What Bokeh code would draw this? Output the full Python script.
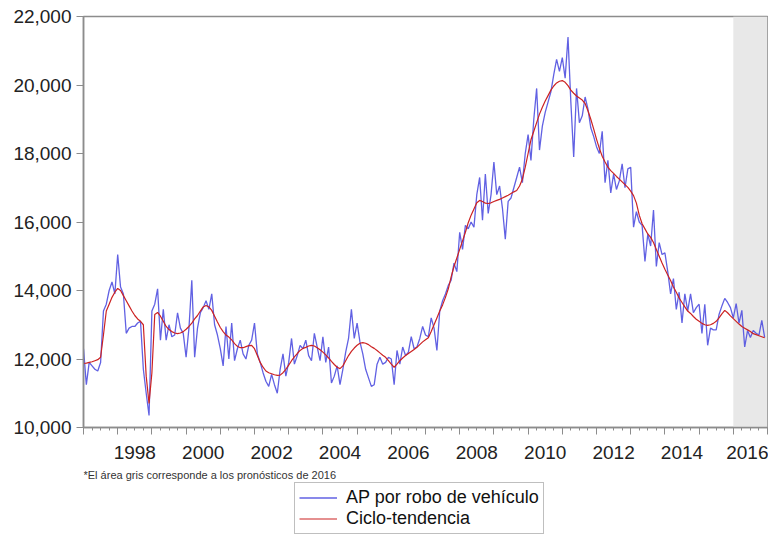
from bokeh.plotting import figure
from bokeh.layouts import column
from bokeh.models import (Range1d, FixedTicker, LinearAxis, NumeralTickFormatter,
                          BoxAnnotation, Legend, LegendItem, Label, ColumnDataSource)
from bokeh.embed import file_html
from bokeh.resources import INLINE

# ---------------- data (monthly, Jan 1997 - Dec 2016) ----------------
start_year = 1997
ap_robo = [
    12300, 11250, 11900, 11800, 11700, 11650, 11900, 13400, 13600, 14000, 14250, 13900,  # 1997
    15050, 14100, 13900, 12750, 12900, 12950, 12950, 13050, 13100, 11700, 11000, 10350,  # 1998
    13400, 13600, 14050, 12550, 13450, 12550, 13000, 12650, 12700, 13350, 12900, 12750,  # 1999
    12050, 12900, 14300, 12050, 12900, 13350, 13500, 13700, 13450, 13900, 13000, 12700,  # 2000
    12300, 11800, 12950, 12000, 13050, 11950, 12300, 12550, 12150, 12000, 12400, 12550,  # 2001
    13050, 12150, 11900, 11600, 11350, 11200, 11550, 11250, 11000, 11700, 12150, 11500,  # 2002
    11900, 12600, 11850, 12100, 12400, 12300, 12550, 12100, 11950, 12750, 12350, 11950,  # 2003
    12650, 11900, 12350, 11300, 11500, 11800, 11250, 11700, 12200, 12600, 13450, 12600,  # 2004
    13050, 12500, 12150, 11700, 11450, 11200, 11250, 11850, 12050, 11850, 11900, 12050,  # 2005
    12000, 11250, 12250, 11850, 12350, 12100, 12200, 12650, 12300, 12350, 12600, 12950,  # 2006
    12700, 12650, 13200, 12900, 12250, 13400, 13700, 13900, 14150, 14300, 14800, 14550,  # 2007
    15700, 15200, 15900, 15800, 16000, 15850, 16800, 17300, 16050, 17400, 16250, 16800,  # 2008
    17750, 16800, 17050, 16400, 15500, 16600, 16700, 17000, 17300, 17600, 17150, 18000,  # 2009
    18550, 17800, 19000, 19900, 18100, 18800, 19200, 19500, 19800, 20300, 20750, 20400,  # 2010
    20800, 20200, 21400, 19500, 17900, 19900, 18900, 19100, 19650, 19300, 18750, 18500,  # 2011
    18200, 18000, 18650, 17150, 17800, 16850, 17400, 16950, 17200, 17700, 17000, 17550,  # 2012
    17600, 15850, 16300, 16000, 15900, 14850, 15650, 15300, 16350, 14700, 15400, 15050,  # 2013
    15100, 14550, 13900, 14350, 13450, 13950, 13050, 13900, 13400, 13900, 13350, 13500,  # 2014
    13600, 12750, 13600, 12400, 12900, 12850, 12850, 13300, 13550, 13770, 13650, 13500,  # 2015
    13200, 13620, 13050, 13420, 12350, 12830, 12630, 12830, 12750, 12700, 13130, 12630,  # 2016
]
ciclo_tendencia = [
    11870, 11880, 11900, 11920, 11950, 11980, 12050, 12700, 13400, 13600, 13800, 13950,  # 1997
    14060, 14000, 13850, 13700, 13550, 13400, 13270, 13170, 13100, 13000, 11500, 10700,  # 1998
    11600, 13300, 13360, 13250, 13100, 12950, 12860, 12800, 12760, 12740, 12760, 12800,  # 1999
    12870, 12950, 13050, 13170, 13270, 13400, 13520, 13560, 13520, 13420, 13250, 13080,  # 2000
    12920, 12800, 12700, 12640, 12560, 12450, 12370, 12330, 12330, 12360, 12390, 12400,  # 2001
    12300, 12100, 11900, 11760, 11650, 11600, 11570, 11540, 11520, 11530, 11600, 11700,  # 2002
    11820, 11950, 12060, 12160, 12250, 12310, 12340, 12380, 12400, 12380, 12330, 12270,  # 2003
    12200, 12120, 12030, 11930, 11840, 11760, 11720, 11800, 11950, 12100, 12220, 12320,  # 2004
    12400, 12460, 12480, 12460, 12420, 12360, 12310, 12250, 12180, 12110, 12050, 11950,  # 2005
    11850, 11760, 11850, 11950, 12030, 12100, 12160, 12220, 12280, 12340, 12420, 12500,  # 2006
    12560, 12620, 12800, 13000, 13200, 13400, 13580, 13800, 14050, 14400, 14700, 14950,  # 2007
    15200, 15450, 15700, 15980, 16200, 16380, 16560, 16630, 16600, 16550, 16540, 16560,  # 2008
    16600, 16630, 16660, 16700, 16740, 16780, 16830, 16880, 16920, 17050, 17250, 17600,  # 2009
    18000, 18400, 18650, 18900, 19150, 19350, 19530, 19690, 19850, 19970, 20060, 20110,  # 2010
    20130, 20080, 19980, 19850, 19760, 19680, 19620, 19560, 19460, 19250, 19000, 18720,  # 2011
    18420, 18150, 17920, 17750, 17600, 17500, 17420, 17330, 17250, 17170, 17090, 17010,  # 2012
    16900, 16770, 16550, 16200, 15950, 15800, 15650, 15550, 15400, 15200, 15000, 14800,  # 2013
    14620, 14450, 14290, 14100, 13950, 13780, 13650, 13520, 13400, 13330, 13240, 13160,  # 2014
    13100, 13040, 13000, 12980, 13000, 13040, 13100, 13200, 13320, 13420, 13350, 13260,  # 2015
    13180, 13100, 13020, 12950, 12900, 12850, 12800, 12740, 12710, 12680, 12650, 12620,  # 2016
]
year_ticks = list(range(1997, 2018))
label_years = [1998, 2000, 2002, 2004, 2006, 2008, 2010, 2012, 2014, 2016]
y_ticks = [10000, 12000, 14000, 16000, 18000, 20000, 22000]
forecast_start, forecast_end = 2016, 2017
series_names = ["AP por robo de vehículo", "Ciclo-tendencia"]
footnote = "*El área gris corresponde a los pronósticos de 2016"

# ---------------- build ----------------
t = [start_year + i / 12 for i in range(len(ap_robo))]
src = ColumnDataSource(dict(t=t, ap=ap_robo, ct=ciclo_tendencia))

FONT = "Liberation Sans"
AX = "#8c8c8c"
BLUE = "#5050e0"
RED = "#cc2222"
W = 768
LEFT = 83

p = figure(width=W, height=468, output_backend="svg", toolbar_location=None,
           x_range=Range1d(1997, 2017), y_range=Range1d(10000, 22000),
           min_border_left=LEFT, min_border_right=1, min_border_top=16, min_border_bottom=41)
p.xgrid.visible = False
p.ygrid.visible = False
p.outline_line_color = AX
p.outline_line_width = 1.5
p.background_fill_color = "white"
p.border_fill_color = "white"

p.add_layout(BoxAnnotation(left=forecast_start, right=forecast_end, fill_color="#e8e8e8",
                           fill_alpha=1, line_color=None, level="underlay"))

p.line("t", "ap", source=src, line_color=BLUE, line_width=1.3, line_alpha=0.9)
p.line("t", "ct", source=src, line_color=RED, line_width=1.2)

# y axis
ya = p.yaxis[0]
ya.ticker = FixedTicker(ticks=y_ticks)
ya.formatter = NumeralTickFormatter(format="0,0")
ya.major_label_text_font = FONT
ya.major_label_text_font_size = "19px"
ya.major_label_text_color = "#222222"
ya.major_tick_out = 7
ya.major_tick_in = 0
ya.minor_tick_line_color = None
ya.axis_line_color = AX
ya.axis_line_width = 1.5
ya.major_tick_line_color = AX
ya.major_label_standoff = 5

# x axis (ticks only, labels not drawn)
xa = p.xaxis[0]
quarters = [y + q / 4 for y in range(1997, 2017) for q in (1, 2, 3)]
xa.ticker = FixedTicker(ticks=year_ticks, minor_ticks=quarters)
xa.major_label_text_font_size = "1px"
xa.major_label_text_color = None
xa.major_label_standoff = 0
xa.major_tick_out = 7
xa.major_tick_in = 0
xa.minor_tick_out = 3
xa.minor_tick_in = 0
xa.axis_line_color = AX
xa.axis_line_width = 1.5
xa.major_tick_line_color = AX
xa.minor_tick_line_color = AX

# x axis labels (centred on each labelled year)
lab_pos = [y + 0.5 for y in label_years]
xb = LinearAxis(ticker=FixedTicker(ticks=lab_pos),
                major_label_overrides={pos: str(y) for pos, y in zip(lab_pos, label_years)})
xb.axis_line_color = None
xb.major_tick_line_color = None
xb.minor_tick_line_color = None
xb.major_tick_out = 0
xb.major_tick_in = 0
xb.major_label_standoff = 11
xb.major_label_text_font = FONT
xb.major_label_text_font_size = "19px"
xb.major_label_text_color = "#222222"
p.add_layout(xb, "below")

# ---------------- footnote + legend strip (frame aligned with main frame) ----------------
H2 = 68
p2 = figure(width=W, height=H2, output_backend="svg", toolbar_location=None,
            x_range=Range1d(LEFT, W - 1), y_range=Range1d(0, H2),
            x_axis_location=None, y_axis_location=None,
            min_border_left=LEFT, min_border_right=1,
            min_border_top=0, min_border_bottom=0)
p2.xgrid.visible = False
p2.ygrid.visible = False
p2.outline_line_color = None
p2.background_fill_color = "white"
p2.border_fill_color = "white"

p2.add_layout(Label(x=LEFT, y=H2 - 6, text=footnote, text_font=FONT, text_font_size="11px",
                    text_color="#333333", text_baseline="middle"))

# off-screen stand-ins so the legend can draw its line samples
e1 = p2.line(x=[0, 1], y=[-50, -50], line_color=BLUE, line_width=1.3, line_alpha=0.9)
e2 = p2.line(x=[0, 1], y=[-50, -50], line_color=RED, line_width=1.2)
legend = Legend(items=[LegendItem(label=series_names[0], renderers=[e1]),
                       LegendItem(label=series_names[1], renderers=[e2])],
                location=(294 - LEFT, 2))
legend.label_text_font = FONT
legend.label_text_font_size = "18px"
legend.label_text_color = "#111111"
legend.glyph_width = 38
legend.glyph_height = 19
legend.label_height = 19
legend.label_standoff = 9
legend.spacing = 0
legend.padding = 4
legend.margin = 0
legend.border_line_color = "#808080"
legend.border_line_width = 1
legend.background_fill_color = "white"
legend.background_fill_alpha = 1
p2.add_layout(legend)

layout = column(p, p2, spacing=0)
open("out.html", "w").write(file_html(layout, INLINE))
